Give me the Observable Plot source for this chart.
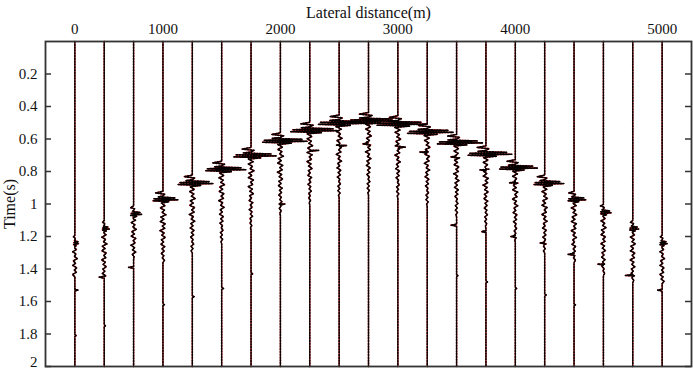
<!DOCTYPE html>
<html><head><meta charset="utf-8">
<script src="https://cdn.jsdelivr.net/npm/d3@7"></script>
<script src="https://cdn.jsdelivr.net/npm/@observablehq/plot@0.6"></script>
<style>body{margin:0;background:#fff;}</style>
</head><body><div id="chart"></div>
<script>
// ---- data ----
const traceIndex = [0,1,2,3,4,5,6,7,8,9,10,11,12,13,14,15,16,17,18,19,20];
const xTickPos = [0,3,7,11,15,20];
const xTickLabels = ["0","1000","2000","3000","4000","5000"];
const yTickValues = [0.2,0.4,0.6,0.8,1,1.2,1.4,1.6,1.8,2];
const yTickLabels = ["0.2","0.4","0.6","0.8","1","1.2","1.4","1.6","1.8","2"];

// main reflection (time of main lobe, s) and lobe amplitudes (in trace spacings)
const eventTime = [1.24,1.15,1.06,0.97,0.87,0.785,0.70,0.61,0.545,0.50,0.485,0.505,0.555,0.62,0.69,0.775,0.87,0.97,1.05,1.15,1.24];
const ampRight  = [0.13,0.17,0.27,0.51,0.71,0.82,0.85,0.92,0.99,0.95,1.02,0.99,0.88,0.88,0.88,0.75,0.65,0.41,0.27,0.20,0.17];
const ampLeft   = [-0.05,-0.07,-0.10,-0.34,-0.48,-0.54,-0.58,-0.61,-0.65,-0.71,-0.68,-0.71,-0.68,-0.65,-0.61,-0.54,-0.37,-0.20,-0.10,-0.10,-0.07];
const hookAmp   = [-0.05,-0.06,-0.10,-0.25,-0.28,-0.30,-0.30,-0.30,-0.30,-0.30,-0.32,-0.30,-0.30,-0.30,-0.30,-0.28,-0.25,-0.18,-0.10,-0.08,-0.06];

// wavelet shape around the main lobe
const waveletDt     = [-0.048,-0.038,-0.03,-0.02,-0.014,-0.008,-0.002,0.004,0.010,0.016,0.024,0.032];
const waveletPart   = ["R","H","R","R","L","R","L","R","L","R","L","R"];
const waveletFactor = [0,1,0.12,0,0.45,0.8,0.9,1,1,0.4,0.15,0];

// coda of small wiggles after the main lobe
const codaStep = 0.014;
const codaShape = [0.7,-0.9,0.5,-0.3,1.0,-0.7,0.3,-0.9,0.8,-0.2,0.6,-1.0,0.4,-0.4,0.8,-0.5,0.2,-0.7,0.6,-0.3,0.4,-0.6,0.3,-0.2,0.5,-0.4,0.2,-0.4,0.3,-0.2];
const codaAmp = [0.08,0.09,0.09,0.10,0.10,0.10,0.10,0.10,0.10,0.10,0.10,0.10,0.10,0.10,0.10,0.10,0.10,0.10,0.09,0.09,0.08];
const codaLen = [12,20,17,25,28,30,30,30,30,30,30,30,30,30,30,30,28,25,25,21,15];

// secondary spikes [time, amplitude]
const spikes = [
  [[1.53,0.10],[1.81,0.05]],
  [[1.45,-0.17],[1.75,0.04]],
  [[1.39,-0.17]],
  [[1.62,0.05]],
  [[1.57,0.06]],
  [[1.52,0.06]],
  [[1.43,0.06]],
  [[1.00,0.15]],
  [[0.67,0.30]],
  [[0.64,0.25]],
  [[0.63,-0.20]],
  [[0.65,0.25]],
  [[0.68,-0.25]],
  [[0.71,-0.20],[1.13,-0.20],[1.44,0.05]],
  [[0.79,-0.20],[1.17,-0.15],[1.48,0.05]],
  [[0.87,-0.20],[1.20,-0.15],[1.52,0.05]],
  [[1.24,-0.15],[1.56,0.05]],
  [[1.31,-0.20],[1.62,0.05]],
  [[1.37,-0.20]],
  [[1.44,-0.25]],
  [[1.53,-0.15]]
];

// ---- build trace vertices ----
const points = [];
traceIndex.forEach((tr, i) => {
  const v = [[0,0],[2,0]];
  const t0 = eventTime[i];
  waveletDt.forEach((dt, k) => {
    const p = waveletPart[k];
    const base = p === "R" ? ampRight[i] : p === "L" ? ampLeft[i] : hookAmp[i];
    v.push([t0 + dt, base * waveletFactor[k]]);
  });
  const cStart = t0 + 0.04;
  for (let k = 0; k < codaLen[i]; k++) v.push([cStart + k * codaStep, codaShape[k] * codaAmp[i]]);
  v.push([cStart + codaLen[i] * codaStep, 0]);
  spikes[i].forEach(([t, a]) => { v.push([t - 0.006, 0], [t, a], [t + 0.006, 0]); });
  v.sort((a, b) => a[0] - b[0]);
  v.forEach(([t, a]) => points.push({trace: tr, t, x: tr + a}));
});

const W = 693, H = 372, mL = 45, mR = 2, mT = 41, mB = 6;
const innerW = W - mL - mR;
const mainTicks = yTickValues.slice(0, -1);
const lastTick = yTickValues.slice(-1);

const chart = Plot.plot({
  width: W, height: H,
  marginLeft: mL, marginRight: mR, marginTop: mT, marginBottom: mB,
  style: {fontFamily: "'Liberation Serif', 'Times New Roman', serif", fontSize: "15px", color: "#111", background: "#fff"},
  x: {domain: [-1, 21]},
  y: {domain: [0, 2], reverse: true},
  marks: [
    Plot.line(points, {x: "x", y: "t", z: "trace", stroke: "#d40000", strokeWidth: 1.3}),
    Plot.line(points, {x: "x", y: "t", z: "trace", stroke: "#000", strokeWidth: 1.6, strokeDasharray: "1.2,1.6"}),
    Plot.tickY(yTickValues, {y: d => d, insetRight: innerW - 6, stroke: "#333", strokeWidth: 1.5}),
    Plot.tickY(yTickValues, {y: d => d, insetLeft: innerW - 6, stroke: "#333", strokeWidth: 1.5}),
    Plot.axisY({ticks: mainTicks, tickFormat: d => yTickLabels[yTickValues.indexOf(d)], tickSize: 0, tickPadding: 8, label: null, fontSize: 15}),
    Plot.axisY({ticks: lastTick, tickFormat: d => yTickLabels[yTickValues.indexOf(d)], tickSize: 0, tickPadding: 8, label: null, fontSize: 15, dy: -4}),
    Plot.axisX({anchor: "top", ticks: xTickPos, tickFormat: d => xTickLabels[xTickPos.indexOf(d)], tickSize: 0, tickPadding: 8, label: null, fontSize: 15}),
    Plot.text(["Lateral distance(m)"], {frameAnchor: "top", dy: -29, lineAnchor: "middle", fontSize: 16}),
    Plot.text(["Time(s)"], {frameAnchor: "left", rotate: -90, dx: -36, textAnchor: "middle", lineAnchor: "middle", fontSize: 16}),
    Plot.frame({stroke: "#333", strokeWidth: 1.8})
  ]
});
document.getElementById("chart").appendChild(chart);
</script>
</body></html>
